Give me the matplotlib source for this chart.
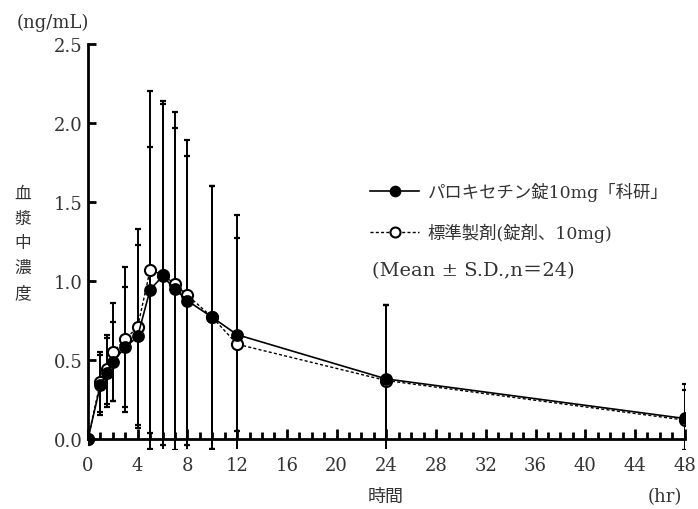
import numpy as np
import matplotlib.pyplot as plt
from matplotlib.ticker import MultipleLocator

plt.rcParams['font.family'] = ['DejaVu Serif', 'Noto Sans CJK JP']

# sampling times (hr)
times = [0, 1, 1.5, 2, 3, 4, 5, 6, 7, 8, 10, 12, 24, 48]

# パロキセチン錠10mg「科研」
test_mean = [0, 0.34, 0.42, 0.49, 0.58, 0.65, 0.945, 1.03, 0.95, 0.875, 0.77, 0.66, 0.38, 0.13]
test_sd = [0, 0.19, 0.22, 0.25, 0.38, 0.58, 0.905, 1.11, 1.02, 0.915, 0.83, 0.61, 0.47, 0.22]

# 標準製剤(錠剤、10mg)
ref_mean = [0, 0.36, 0.44, 0.55, 0.63, 0.71, 1.07, 1.04, 0.98, 0.91, 0.77, 0.60, 0.37, 0.12]
ref_sd = [0, 0.19, 0.22, 0.31, 0.46, 0.62, 1.13, 1.08, 1.09, 0.985, 0.83, 0.82, 0.48, 0.19]

test_label = 'パロキセチン錠10mg「科研」'
ref_label = '標準製剤(錠剤、10mg)'
note_label = '(Mean ± S.D.,n＝24)'

fig = plt.figure(figsize=(6.98, 5.1), dpi=100)
ax = fig.add_axes([0.126, 0.1186, 0.855, 0.7934])

# error bars
ax.errorbar(times, ref_mean, yerr=ref_sd, fmt='none', ecolor='black',
            elinewidth=1.4, capsize=2.4, capthick=1.6, zorder=2)
ax.errorbar(times, test_mean, yerr=test_sd, fmt='none', ecolor='black',
            elinewidth=1.4, capsize=2.4, capthick=1.6, zorder=2)

# mean curves
ax.plot(times, ref_mean, color='black', lw=1.0, ls=(0, (2.2, 1.6)),
        marker='o', ms=8, mfc='white', mec='black', mew=1.5,
        label=ref_label, zorder=3)
ax.plot(times, test_mean, color='black', lw=1.2, ls='-',
        marker='o', ms=8, mfc='black', mec='black', mew=1.2,
        label=test_label, zorder=4)

ax.set_xlim(0, 48)
ax.set_ylim(-0.06, 2.5)
ax.spines['bottom'].set_position(('data', 0))
ax.spines['top'].set_visible(False)
ax.spines['right'].set_visible(False)
ax.spines['left'].set_linewidth(2.0)
ax.spines['bottom'].set_linewidth(2.0)
ax.spines['left'].set_bounds(0, 2.5)

ax.xaxis.set_major_locator(MultipleLocator(4))
ax.xaxis.set_minor_locator(MultipleLocator(1))
ax.yaxis.set_major_locator(MultipleLocator(0.5))
ax.yaxis.set_major_formatter(plt.FormatStrFormatter('%.1f'))
ax.tick_params(axis='x', which='major', direction='in', length=7, width=2,
               labelsize=13, pad=12, colors='black')
ax.tick_params(axis='x', which='minor', direction='in', length=5, width=2)
ax.tick_params(axis='y', which='major', direction='in', length=6, width=2,
               labelsize=13, pad=4)
for lab in ax.get_xticklabels() + ax.get_yticklabels():
    lab.set_color('#333333')

# axis labels
fig.text(0.075, 0.955, '(ng/mL)', fontsize=13, ha='center', va='center', color='#333333')
fig.text(0.033, 0.5216, '\n'.join('血漿中濃度'), fontsize=12, ha='center', va='center',
         linespacing=1.6, color='#333333')
fig.text(0.552, 0.025, '時間', fontsize=13, ha='center', va='center', color='#333333')
fig.text(0.953, 0.025, '(hr)', fontsize=13, ha='center', va='center', color='#333333')

# legend
handles, labels = ax.get_legend_handles_labels()
leg = ax.legend(handles[::-1], labels[::-1], loc='upper left',
                bbox_to_anchor=(0.530, 0.642), bbox_transform=fig.transFigure,
                frameon=False, fontsize=12.5, borderpad=0, borderaxespad=0,
                handlelength=2.85, handletextpad=0.46, labelspacing=1.28,
                markerscale=0.9)
for t in leg.get_texts():
    t.set_color('#333333')
fig.text(0.533, 0.4686, note_label, fontsize=14, ha='left', va='center', color='#333333')

fig.savefig('out.png', dpi=100)
